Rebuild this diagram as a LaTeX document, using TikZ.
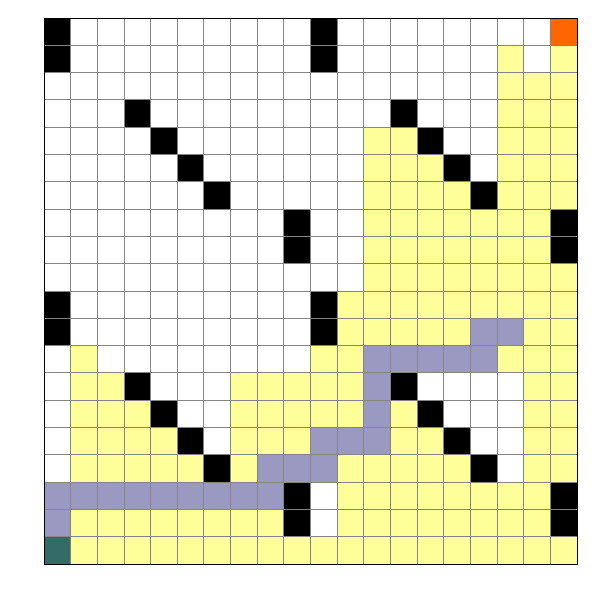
\documentclass[tikz,border=0pt]{standalone}
\definecolor{cW}{HTML}{FFFFFF}
\definecolor{cB}{HTML}{000000}
\definecolor{cY}{HTML}{FFFF99}
\definecolor{cP}{HTML}{9999C2}
\definecolor{cO}{HTML}{FF6600}
\definecolor{cT}{HTML}{336B66}
\definecolor{gridgray}{HTML}{858585}
\tikzset{gridline/.style={draw=gridgray,line width=0.9pt}}
\begin{document}
\begin{tikzpicture}[x=1pt,y=-1pt]
\useasboundingbox (0,0) rectangle (600,600);
\fill[white] (0,0) rectangle (600,600);
\foreach \row [count=\r from 0] in {
{B,W,W,W,W,W,W,W,W,W,B,W,W,W,W,W,W,W,W,O},
{B,W,W,W,W,W,W,W,W,W,B,W,W,W,W,W,W,Y,W,Y},
{W,W,W,W,W,W,W,W,W,W,W,W,W,W,W,W,W,Y,Y,Y},
{W,W,W,B,W,W,W,W,W,W,W,W,W,B,W,W,W,Y,Y,Y},
{W,W,W,W,B,W,W,W,W,W,W,W,Y,Y,B,W,W,Y,Y,Y},
{W,W,W,W,W,B,W,W,W,W,W,W,Y,Y,Y,B,W,Y,Y,Y},
{W,W,W,W,W,W,B,W,W,W,W,W,Y,Y,Y,Y,B,Y,Y,Y},
{W,W,W,W,W,W,W,W,W,B,W,W,Y,Y,Y,Y,Y,Y,Y,B},
{W,W,W,W,W,W,W,W,W,B,W,W,Y,Y,Y,Y,Y,Y,Y,B},
{W,W,W,W,W,W,W,W,W,W,W,W,Y,Y,Y,Y,Y,Y,Y,Y},
{B,W,W,W,W,W,W,W,W,W,B,Y,Y,Y,Y,Y,Y,Y,Y,Y},
{B,W,W,W,W,W,W,W,W,W,B,Y,Y,Y,Y,Y,P,P,Y,Y},
{W,Y,W,W,W,W,W,W,W,W,Y,Y,P,P,P,P,P,Y,Y,Y},
{W,Y,Y,B,W,W,W,Y,Y,Y,Y,Y,P,B,W,W,W,W,Y,Y},
{W,Y,Y,Y,B,W,W,Y,Y,Y,Y,Y,P,Y,B,W,W,W,Y,Y},
{W,Y,Y,Y,Y,B,W,Y,Y,Y,P,P,P,Y,Y,B,W,W,Y,Y},
{W,Y,Y,Y,Y,Y,B,Y,P,P,P,Y,Y,Y,Y,Y,B,W,Y,Y},
{P,P,P,P,P,P,P,P,P,B,W,Y,Y,Y,Y,Y,Y,Y,Y,B},
{P,Y,Y,Y,Y,Y,Y,Y,Y,B,W,Y,Y,Y,Y,Y,Y,Y,Y,B},
{T,Y,Y,Y,Y,Y,Y,Y,Y,Y,Y,Y,Y,Y,Y,Y,Y,Y,Y,Y}} {
  \foreach \c [count=\k from 0] in \row {
    \fill[c\c] ({44+\k*26.65},{18+\r*27.3}) rectangle ++(26.65,27.3);
  }
}
\foreach \k in {1,...,19} {
  \draw[gridline] ({44+\k*26.65},18) -- ++(0,546);
  \draw[gridline] (44,{18+\k*27.3}) -- ++(533,0);
}
\draw[black,line width=1pt] (44,18) rectangle (577,564);
\end{tikzpicture}
\end{document}
